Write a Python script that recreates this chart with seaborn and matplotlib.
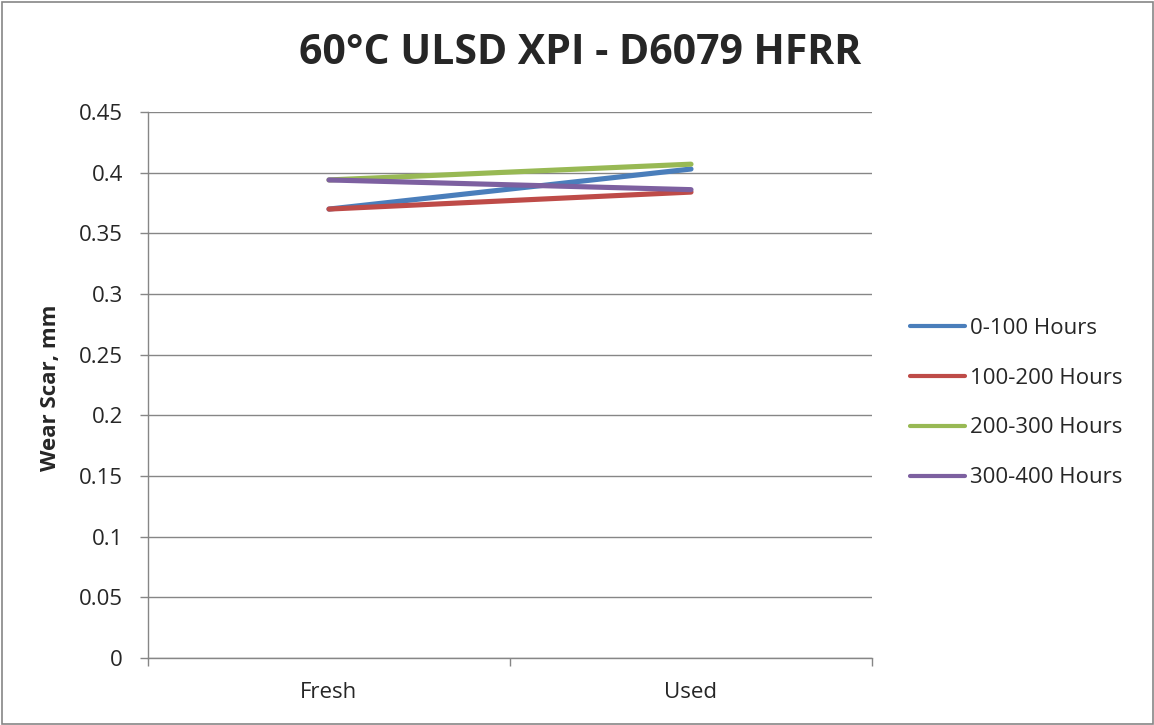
import matplotlib
matplotlib.use("Agg")
import matplotlib.pyplot as plt
import matplotlib.patches as mpatches
from matplotlib.ticker import FixedLocator, NullFormatter
import pandas as pd
import seaborn as sns

# Data: HFRR wear scar for each run interval, fresh vs. used fuel
samples = ["Fresh", "Used"]
series_names = ["0-100 Hours", "100-200 Hours", "200-300 Hours", "300-400 Hours"]
wear_0_100 = [0.370, 0.403]
wear_100_200 = [0.370, 0.384]
wear_200_300 = [0.394, 0.407]
wear_300_400 = [0.394, 0.386]
y_ticks = [0, 0.05, 0.1, 0.15, 0.2, 0.25, 0.3, 0.35, 0.4, 0.45]
y_tick_labels = ["0", "0.05", "0.1", "0.15", "0.2", "0.25", "0.3", "0.35", "0.4", "0.45"]

colors = ["#4A7EBB", "#BE4B48", "#98B954", "#7D60A0"]

rows = []
for name, vals in zip(series_names, [wear_0_100, wear_100_200, wear_200_300, wear_300_400]):
    for i, (s, v) in enumerate(zip(samples, vals)):
        rows.append({"pos": i, "Sample": s, "Interval": name, "Wear": v})
df = pd.DataFrame(rows)

sns.set_style("white")
plt.rcParams["font.family"] = ["Open Sans", "DejaVu Sans"]

FS = 16
LW = 3.7

fig = plt.figure(figsize=(11.54, 7.25), dpi=100)
ax = fig.add_axes([148 / 1154, 67 / 725, 724 / 1154, 546 / 725])

sns.lineplot(data=df, x="pos", y="Wear", hue="Interval", hue_order=series_names,
             palette=colors, linewidth=LW, ax=ax, legend=False,
             solid_capstyle="round")

ax.set_xlim(-0.5, 1.5)
ax.set_ylim(0, 0.45)

# Horizontal gridlines
ax.set_yticks(y_ticks)
ax.set_yticklabels(y_tick_labels, fontsize=FS)
ax.yaxis.grid(True, color="#868686", linewidth=1.0)
ax.xaxis.grid(False)
ax.set_axisbelow(True)

# Category labels sit between the boundary tick marks
ax.xaxis.set_major_locator(FixedLocator([-0.5, 0.5, 1.5]))
ax.xaxis.set_major_formatter(NullFormatter())
ax.xaxis.set_minor_locator(FixedLocator([0, 1]))
ax.set_xticklabels(samples, minor=True, fontsize=FS)
ax.tick_params(axis="x", which="major", length=6, width=1, color="#868686", direction="out", bottom=True)
ax.tick_params(axis="x", which="minor", length=0, pad=17)
ax.tick_params(axis="y", length=6, width=1, color="#868686", direction="out", left=True, pad=12)

for side in ["top", "right"]:
    ax.spines[side].set_visible(False)
for side in ["left", "bottom"]:
    ax.spines[side].set_color("#868686")
    ax.spines[side].set_linewidth(1.0)

ax.set_xlabel("")
ax.set_ylabel("Wear Scar, mm", fontsize=FS, fontweight="bold")
ax.yaxis.label.set_va("center")
ax.yaxis.set_label_coords((51 - 148) / 724, 0.495)

fig.text(580 / 1154, 1 - 53 / 725, "60°C ULSD XPI - D6079 HFRR", ha="center", va="center",
         fontsize=29.5, fontweight="bold")

handles = [plt.Line2D([0], [0], color=c, linewidth=3.0, solid_capstyle="round") for c in colors]
fig.legend(handles, series_names, loc="center left", bbox_to_anchor=(903 / 1154, 1 - 403 / 725),
           frameon=False, fontsize=FS, handlelength=2.5, handletextpad=0.2,
           labelspacing=1.3, borderaxespad=0, borderpad=0.3)

# Chart border
fig.patches.append(mpatches.Rectangle((1.5 / 1154, 1.5 / 725), 1 - 3 / 1154, 1 - 3 / 725,
                                      transform=fig.transFigure, fill=False,
                                      edgecolor="#868686", linewidth=1.2))

fig.savefig("out.png", dpi=100)
